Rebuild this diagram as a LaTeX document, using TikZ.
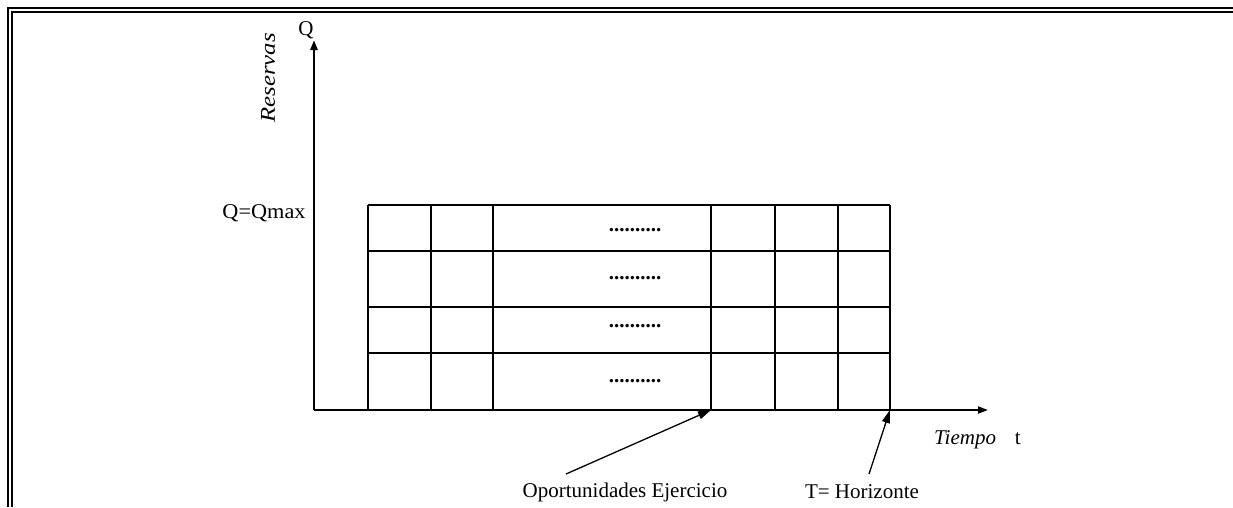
\documentclass[tikz,border=0pt]{standalone}
\usepackage{fontspec}
\setmainfont{Liberation Serif}
\usetikzlibrary{arrows.meta}
\begin{document}
\begin{tikzpicture}[x=1pt,y=-1pt,
  lbl/.style={inner sep=0pt, font=\fontsize{21}{25}\selectfont},
  gridline/.style={line width=1.6pt},
  axis/.style={line width=2pt, -{Triangle[length=10pt,width=7pt]}},
  pointer/.style={line width=1.3pt, -{Triangle[length=13pt,width=8pt]}},
  frame/.style={line width=2.2pt},
  dots/.style={inner sep=0pt, font=\fontsize{21}{24}\selectfont\bfseries}]
\useasboundingbox (0,0) rectangle (1233,507);
% double frame (top and left)
\draw[frame] (8,507) -- (8,8) -- (1233,8);
\draw[frame] (12,507) -- (12,12) -- (1233,12);
% grid
\foreach \x in {368,431,493,711,775,838,890} \draw[gridline] (\x,205) -- (\x,410);
\foreach \y in {205,251,307,353} \draw[gridline] (368,\y) -- (890,\y);
% axes
\coordinate (O) at (314,410);
\coordinate (ytip) at (314,40);
\coordinate (xtip) at (988,410);
\draw[axis, line width=2.6pt] (O) -- (ytip);
\draw[axis] (O) -- (xtip);
% labels
\node[lbl] (Q) at (306,30) {Q};
\node[lbl, rotate=90] (res) at (268,78) {\scalebox{1.18}[1]{\itshape Reservas}};
\node[lbl] (qmax) at (264,213) {\scalebox{1.06}[1]{Q=Qmax}};
\node[lbl, anchor=west] (tiempo) at (934,440) {\itshape Tiempo\hspace{0.9em}\upshape t};
% dots
\node[dots] (d1) at (635,230) {..........};
\node[dots] (d2) at (635,278) {..........};
\node[dots] (d3) at (635,326) {..........};
\node[dots] (d4) at (635,381) {..........};
% pointers
\coordinate (exer) at (711,410);
\coordinate (horiz) at (890,410);
\node[lbl] (opp) at (625,492) {Oportunidades Ejercicio};
\node[lbl] (hor) at (862,492) {T= Horizonte};
\coordinate (a1) at (566,474);
\coordinate (a2) at (869,474);
\draw[pointer] (a1) -- (exer);
\draw[pointer] (a2) -- (horiz);
\end{tikzpicture}
\end{document}
